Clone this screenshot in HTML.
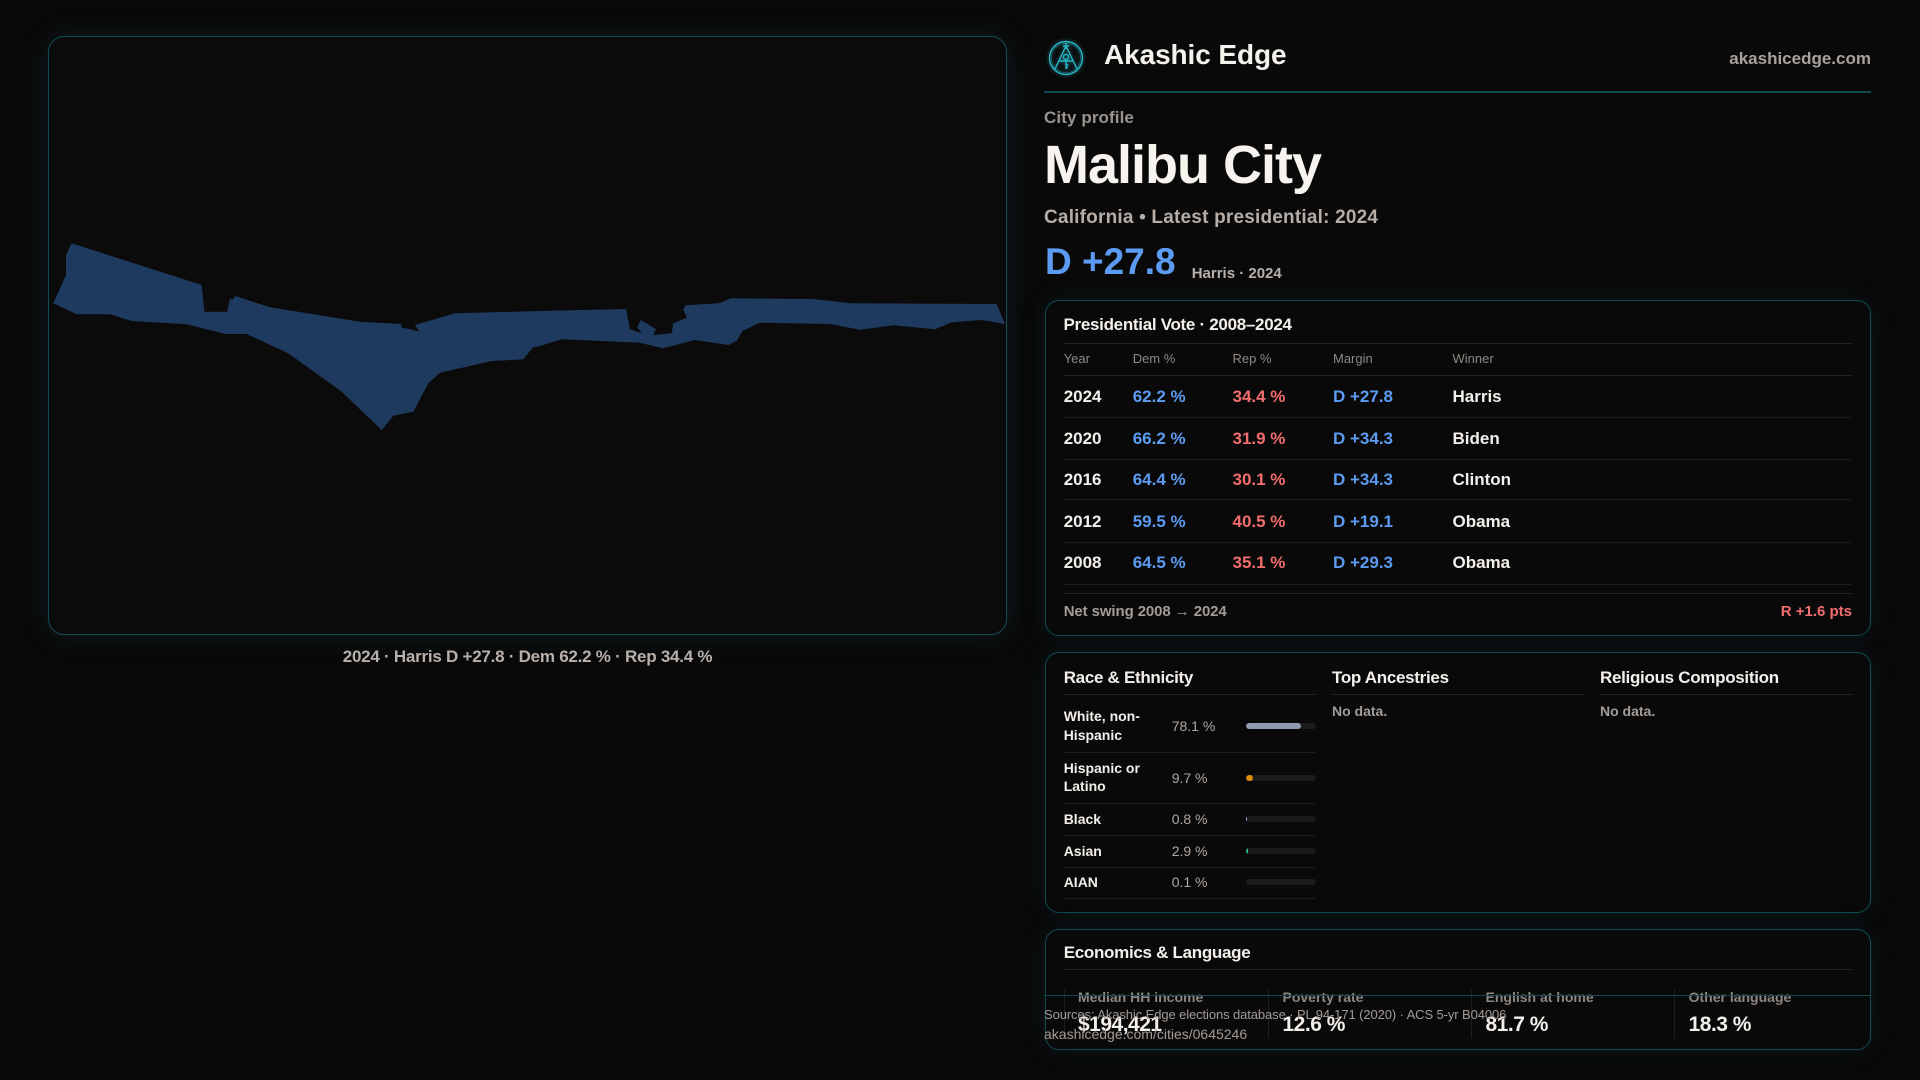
<!DOCTYPE html>
<html>
<head>
<meta charset="utf-8">
<style>
*{margin:0;padding:0;box-sizing:border-box;}
html,body{width:1920px;height:1080px;overflow:hidden;background:#0a0909;}
body{position:relative;font-family:"Liberation Sans",Arial,sans-serif;color:#f3efeb;}
.a{position:absolute;white-space:nowrap;line-height:1;}
.b{font-weight:bold;}
.panel{position:absolute;border:1.5px solid #0f4d57;border-radius:16px;background:#0c0b0c;box-shadow:0 0 28px rgba(18,95,110,0.22);}
.card{position:absolute;border:1.5px solid #0f4a54;border-radius:14px;background:#0a0909;box-shadow:0 0 26px rgba(18,95,110,0.16);}
.hl{position:absolute;height:1px;background:#242424;}
.rl{position:absolute;height:1px;background:#1d1d1d;}
.vl{position:absolute;width:1px;background:#1e1e1e;}
.blue{color:#5b9cf2;}
.red{color:#f26d6d;}
.gray{color:#8f8882;}
.track{position:absolute;width:70px;height:6px;border-radius:3px;background:#1b1b1d;overflow:hidden;}
.fill{position:absolute;left:0;top:0;height:6px;border-radius:3px;}
</style>
</head>
<body>

<!-- Map panel -->
<div class="panel" style="left:48px;top:36px;width:959px;height:599px;"></div>
<svg style="position:absolute;left:0;top:0;" width="1920" height="1080" viewBox="0 0 1920 1080">
<polygon fill="#1f3a5f" points="53.3,303.3 66,275 66,255 71.7,243.3 201.7,285 204.3,311.7 227.3,311.7 230,298.3 232.7,300 235.3,296 270,307.3 360,321.7 401.7,324 401,327.3 419,331.3 415,325 455,313.3 540,311 626,309 630,329.3 641.7,333.3 637.3,327.3 640.7,320 656,329.3 653.3,335 671.7,333.3 673.3,323.3 686.7,317.7 683.3,309.3 685.7,305.3 719,303.3 730.7,298.3 813.3,299 850,303.3 996.7,304 1005,324 981.7,320 951.7,322.3 935,329.3 893.3,325.3 860,329.7 830,324 760,322.7 742.7,330.7 736.7,340.7 728.3,345 695,340 662.7,348.3 640,342.7 561.7,339.3 540,346 533,347.3 523.3,359.3 491.7,361 440,372.7 428.3,383.3 413.3,411.7 393.3,415.7 381.7,430 341.7,391.7 288.3,353.3 246.7,334 225.7,334 186.7,324.3 131.7,321 110,314.3 76.7,314.3"/>
</svg>
<div class="a b" style="left:48px;width:959px;top:647.5px;font-size:17px;letter-spacing:-0.25px;text-align:center;color:#b8b0aa;">2024 · Harris D +27.8 · Dem 62.2 % · Rep 34.4 %</div>

<!-- Header -->
<svg style="position:absolute;left:1046px;top:38px;" width="40" height="40" viewBox="0 0 40 40">
<g fill="none" stroke="#27b6c6" stroke-width="1.4" style="filter:drop-shadow(0 0 2px rgba(40,190,210,0.6));">
<circle cx="20" cy="20" r="16.5"/>
<circle cx="20" cy="20" r="14.8" stroke-width="0.6" opacity="0.6"/>
<path d="M20 8 L9 31 M20 8 L31 31 M13 23 L27 23"/>
<path d="M20 5 L20 11 M17 8 L23 8"/>
<circle cx="20" cy="19" r="2.6"/>
<path d="M20 21.6 L20 31 M20 27 L22.5 27 M20 29.5 L22 29.5"/>
</g>
</svg>
<div class="a b" style="left:1104px;top:41.3px;font-size:28px;color:#f5f2ee;letter-spacing:-0.1px;">Akashic Edge</div>
<div class="a b" style="right:49px;top:49.6px;font-size:17px;color:#a8a29c;">akashicedge.com</div>
<div style="position:absolute;left:1044px;top:91px;width:827px;height:1.5px;background:#0f4a52;"></div>

<div class="a b" style="left:1044px;top:108.9px;font-size:17px;color:#9a948f;letter-spacing:0.1px;">City profile</div>
<div class="a b" style="left:1044px;top:138.3px;font-size:54px;color:#f7f4f0;letter-spacing:-1px;">Malibu City</div>
<div class="a b" style="left:1044px;top:207.9px;font-size:19px;color:#b5ada6;letter-spacing:0.2px;">California • Latest presidential: 2024</div>
<div class="a b blue" style="left:1045px;top:242.7px;font-size:37px;">D +27.8</div>
<div class="a b" style="left:1191.7px;top:266.3px;font-size:15px;color:#b8b0aa;">Harris · 2024</div>

<!-- Presidential card -->
<div class="card" style="left:1044.5px;top:300px;width:826px;height:336px;"></div>
<div class="a b" style="left:1063.5px;top:316.3px;font-size:17px;letter-spacing:-0.3px;">Presidential Vote · 2008–2024</div>
<div class="hl" style="left:1063.5px;top:343px;width:788.5px;"></div>
<div class="a gray" style="left:1063.7px;top:351.7px;font-size:13px;">Year</div>
<div class="a gray" style="left:1132.7px;top:351.7px;font-size:13px;">Dem %</div>
<div class="a gray" style="left:1232.5px;top:351.7px;font-size:13px;">Rep %</div>
<div class="a gray" style="left:1333px;top:351.7px;font-size:13px;">Margin</div>
<div class="a gray" style="left:1452.5px;top:351.7px;font-size:13px;">Winner</div>
<div class="hl" style="left:1063.5px;top:375px;width:788.5px;"></div>

<div class="a b" style="left:1063.7px;top:387.5px;font-size:17px;">2024</div>
<div class="a b blue" style="left:1132.7px;top:387.5px;font-size:17px;">62.2 %</div>
<div class="a b red" style="left:1232.5px;top:387.5px;font-size:17px;">34.4 %</div>
<div class="a b blue" style="left:1333px;top:387.5px;font-size:17px;">D +27.8</div>
<div class="a b" style="left:1452.5px;top:387.5px;font-size:17px;">Harris</div>
<div class="rl" style="left:1063.5px;top:417.3px;width:788.5px;"></div>

<div class="a b" style="left:1063.7px;top:429.5px;font-size:17px;">2020</div>
<div class="a b blue" style="left:1132.7px;top:429.5px;font-size:17px;">66.2 %</div>
<div class="a b red" style="left:1232.5px;top:429.5px;font-size:17px;">31.9 %</div>
<div class="a b blue" style="left:1333px;top:429.5px;font-size:17px;">D +34.3</div>
<div class="a b" style="left:1452.5px;top:429.5px;font-size:17px;">Biden</div>
<div class="rl" style="left:1063.5px;top:459.3px;width:788.5px;"></div>

<div class="a b" style="left:1063.7px;top:470.5px;font-size:17px;">2016</div>
<div class="a b blue" style="left:1132.7px;top:470.5px;font-size:17px;">64.4 %</div>
<div class="a b red" style="left:1232.5px;top:470.5px;font-size:17px;">30.1 %</div>
<div class="a b blue" style="left:1333px;top:470.5px;font-size:17px;">D +34.3</div>
<div class="a b" style="left:1452.5px;top:470.5px;font-size:17px;">Clinton</div>
<div class="rl" style="left:1063.5px;top:499.3px;width:788.5px;"></div>

<div class="a b" style="left:1063.7px;top:512.5px;font-size:17px;">2012</div>
<div class="a b blue" style="left:1132.7px;top:512.5px;font-size:17px;">59.5 %</div>
<div class="a b red" style="left:1232.5px;top:512.5px;font-size:17px;">40.5 %</div>
<div class="a b blue" style="left:1333px;top:512.5px;font-size:17px;">D +19.1</div>
<div class="a b" style="left:1452.5px;top:512.5px;font-size:17px;">Obama</div>
<div class="rl" style="left:1063.5px;top:542.3px;width:788.5px;"></div>

<div class="a b" style="left:1063.7px;top:554.1px;font-size:17px;">2008</div>
<div class="a b blue" style="left:1132.7px;top:554.1px;font-size:17px;">64.5 %</div>
<div class="a b red" style="left:1232.5px;top:554.1px;font-size:17px;">35.1 %</div>
<div class="a b blue" style="left:1333px;top:554.1px;font-size:17px;">D +29.3</div>
<div class="a b" style="left:1452.5px;top:554.1px;font-size:17px;">Obama</div>
<div class="rl" style="left:1063.5px;top:584.3px;width:788.5px;"></div>
<div class="hl" style="left:1063.5px;top:593.3px;width:788.5px;"></div>

<div class="a b" style="left:1063.7px;top:603.8px;font-size:15px;color:#a39b95;letter-spacing:-0.1px;">Net swing 2008 → 2024</div>
<div class="a b red" style="right:68px;top:603.8px;font-size:15px;">R +1.6 pts</div>

<!-- Race card -->
<div class="card" style="left:1044.5px;top:652px;width:826px;height:261px;"></div>
<div class="a b" style="left:1063.7px;top:668.5px;font-size:17px;letter-spacing:-0.3px;">Race &amp; Ethnicity</div>
<div class="a b" style="left:1332px;top:668.5px;font-size:17px;letter-spacing:-0.3px;">Top Ancestries</div>
<div class="a b" style="left:1600px;top:668.5px;font-size:17px;letter-spacing:-0.3px;">Religious Composition</div>
<div class="hl" style="left:1063.7px;top:694.3px;width:252.3px;"></div>
<div class="hl" style="left:1332px;top:694.3px;width:252px;"></div>
<div class="hl" style="left:1600px;top:694.3px;width:252.5px;"></div>
<div class="a b" style="left:1332px;top:704.3px;font-size:14px;color:#a39b95;">No data.</div>
<div class="a b" style="left:1600px;top:704.3px;font-size:14px;color:#a39b95;">No data.</div>

<div class="a b" style="left:1063.7px;top:707.3px;font-size:14px;line-height:18.5px;white-space:normal;width:100px;">White, non-<br>Hispanic</div>
<div class="a" style="left:1171.7px;top:719.3px;font-size:14px;color:#b0a8a0;">78.1 %</div>
<div class="track" style="left:1246px;top:723px;"><div class="fill" style="width:54.7px;background:#8e9aae;"></div></div>
<div class="rl" style="left:1063.7px;top:752.3px;width:252.3px;"></div>

<div class="a b" style="left:1063.7px;top:758.9px;font-size:14px;line-height:18.5px;white-space:normal;width:100px;">Hispanic or<br>Latino</div>
<div class="a" style="left:1171.7px;top:771px;font-size:14px;color:#b0a8a0;">9.7 %</div>
<div class="track" style="left:1246px;top:774.7px;"><div class="fill" style="width:6.8px;background:#e08c0a;"></div></div>
<div class="rl" style="left:1063.7px;top:803.3px;width:252.3px;"></div>

<div class="a b" style="left:1063.7px;top:812px;font-size:14px;">Black</div>
<div class="a" style="left:1171.7px;top:812px;font-size:14px;color:#b0a8a0;">0.8 %</div>
<div class="track" style="left:1246px;top:815.7px;"><div class="fill" style="width:0.6px;background:#b0a0e0;"></div></div>
<div class="rl" style="left:1063.7px;top:835.3px;width:252.3px;"></div>

<div class="a b" style="left:1063.7px;top:844.3px;font-size:14px;">Asian</div>
<div class="a" style="left:1171.7px;top:844.3px;font-size:14px;color:#b0a8a0;">2.9 %</div>
<div class="track" style="left:1246px;top:848px;"><div class="fill" style="width:2px;background:#2ab894;border-radius:1px;"></div></div>
<div class="rl" style="left:1063.7px;top:867.3px;width:252.3px;"></div>

<div class="a b" style="left:1063.7px;top:875.3px;font-size:14px;">AIAN</div>
<div class="a" style="left:1171.7px;top:875.3px;font-size:14px;color:#b0a8a0;">0.1 %</div>
<div class="track" style="left:1246px;top:879px;"></div>
<div class="rl" style="left:1063.7px;top:898.3px;width:252.3px;"></div>

<!-- Economics card -->
<div class="card" style="left:1044.5px;top:928.5px;width:826px;height:121.5px;"></div>
<div class="a b" style="left:1063.7px;top:943.5px;font-size:17px;letter-spacing:-0.3px;">Economics &amp; Language</div>
<div class="hl" style="left:1063.7px;top:969px;width:788.5px;"></div>
<div class="vl" style="left:1063.5px;top:989px;height:49px;"></div>
<div class="vl" style="left:1267.7px;top:989px;height:49px;"></div>
<div class="vl" style="left:1470.7px;top:989px;height:49px;"></div>
<div class="vl" style="left:1673.5px;top:989px;height:49px;"></div>
<div class="a b" style="left:1078px;top:990px;font-size:14px;color:#8f8882;">Median HH income</div>
<div class="a b" style="left:1282.5px;top:990px;font-size:14px;color:#8f8882;">Poverty rate</div>
<div class="a b" style="left:1485.5px;top:990px;font-size:14px;color:#8f8882;">English at home</div>
<div class="a b" style="left:1688.6px;top:990px;font-size:14px;color:#8f8882;">Other language</div>
<div class="a b" style="left:1078px;top:1013.7px;font-size:21px;letter-spacing:-0.5px;">$194,421</div>
<div class="a b" style="left:1282.5px;top:1013.7px;font-size:21px;letter-spacing:-0.5px;">12.6 %</div>
<div class="a b" style="left:1485.5px;top:1013.7px;font-size:21px;letter-spacing:-0.5px;">81.7 %</div>
<div class="a b" style="left:1688.6px;top:1013.7px;font-size:21px;letter-spacing:-0.5px;">18.3 %</div>

<!-- Footer overlay -->
<div style="position:absolute;left:1044px;top:995px;width:827px;height:1px;background:#0f4a52;"></div>
<div class="a" style="left:1044px;top:1007.7px;font-size:13px;color:#a39b95;letter-spacing:-0.1px;">Sources: Akashic Edge elections database · PL 94-171 (2020) · ACS 5-yr B04006</div>
<div class="a" style="left:1044px;top:1027.3px;font-size:14px;color:#a39b95;">akashicedge.com/cities/0645246</div>

</body>
</html>
